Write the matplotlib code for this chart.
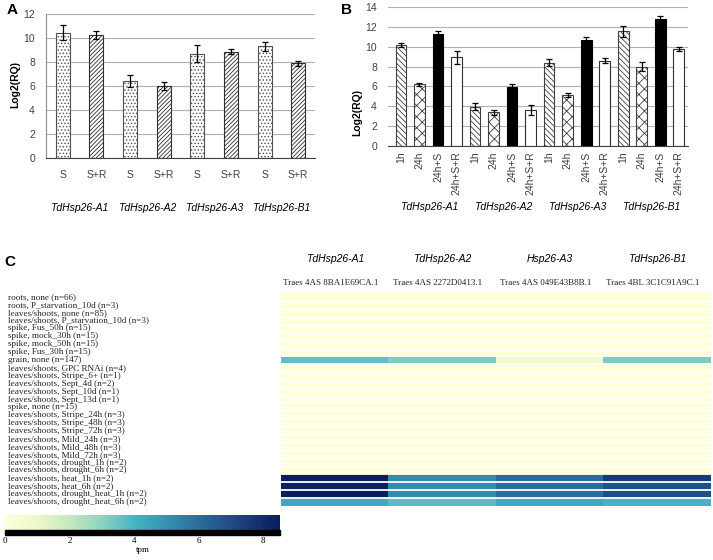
import numpy as np
import matplotlib
matplotlib.use("Agg")
import matplotlib.pyplot as plt
from matplotlib import transforms
from matplotlib.patches import Rectangle
from matplotlib.cm import ScalarMappable
from matplotlib.colors import Normalize, LinearSegmentedColormap

# ---- panel A data ----
a_labels = ["S", "S+R", "S", "S+R", "S", "S+R", "S", "S+R"]
a_values = [10.45, 10.25, 6.45, 6.0, 8.7, 8.85, 9.3, 7.9]
a_errors = [0.6, 0.3, 0.5, 0.3, 0.7, 0.2, 0.4, 0.2]
genes = ["TdHsp26-A1", "TdHsp26-A2", "TdHsp26-A3", "TdHsp26-B1"]

# ---- panel B data ----
b_labels = ["1h", "24h", "24h+S", "24h+S+R"] * 4
b_values = [10.2, 6.2, 11.3, 8.95,
            3.95, 3.4, 5.9, 3.65,
            8.4, 5.1, 10.65, 8.6,
            11.55, 8.0, 12.8, 9.75]
b_errors = [0.2, 0.15, 0.3, 0.65,
            0.35, 0.25, 0.3, 0.5,
            0.35, 0.2, 0.35, 0.25,
            0.55, 0.45, 0.3, 0.2]

# ---- panel C data ----
conditions = [
    "roots, none (n=66)",
    "roots, P_starvation_10d (n=3)",
    "leaves/shoots, none (n=85)",
    "leaves/shoots, P_starvation_10d (n=3)",
    "spike, Fus_50h (n=15)",
    "spike, mock_30h (n=15)",
    "spike, mock_50h (n=15)",
    "spike, Fus_30h (n=15)",
    "grain, none (n=147)",
    "leaves/shoots, GPC RNAi (n=4)",
    "leaves/shoots, Stripe_6+ (n=1)",
    "leaves/shoots, Sept_4d (n=2)",
    "leaves/shoots, Sept_10d (n=1)",
    "leaves/shoots, Sept_13d (n=1)",
    "spike, none (n=15)",
    "leaves/shoots, Stripe_24h (n=3)",
    "leaves/shoots, Stripe_48h (n=3)",
    "leaves/shoots, Stripe_72h (n=3)",
    "leaves/shoots, Mild_24h (n=3)",
    "leaves/shoots, Mild_48h (n=3)",
    "leaves/shoots, Mild_72h (n=3)",
    "leaves/shoots, drought_1h (n=2)",
    "leaves/shoots, drought_6h (n=2)",
    "leaves/shoots, heat_1h (n=2)",
    "leaves/shoots, heat_6h (n=2)",
    "leaves/shoots, drought_heat_1h (n=2)",
    "leaves/shoots, drought_heat_6h (n=2)",
]
c_genes = ["TdHsp26-A1", "TdHsp26-A2", "Hsp26-A3", "TdHsp26-B1"]
transcripts = ["Traes 4AS 8BA1E69CA.1", "Traes 4AS 2272D0413.1",
               "Traes 4AS 049E43B8B.1", "Traes 4BL 3C1C91A9C.1"]
tpm_a1 = [0.05, 0.05, 0.05, 0.05, 0.05, 0.05, 0.05, 0.05, 3.6, 0.05, 0.05, 0.05, 0.05, 0.05,
          0.05, 0.05, 0.05, 0.05, 0.05, 0.05, 0.05, 0.05, 0.05, 8.5, 8.4, 8.5, 4.3]
tpm_a2 = [0.05, 0.05, 0.05, 0.05, 0.05, 0.05, 0.05, 0.05, 3.2, 0.05, 0.05, 0.05, 0.05, 0.05,
          0.05, 0.05, 0.05, 0.05, 0.05, 0.05, 0.05, 0.05, 0.05, 5.2, 5.1, 5.2, 3.7]
tpm_a3 = [0.05, 0.05, 0.05, 0.05, 0.05, 0.05, 0.05, 0.05, 0.8, 0.05, 0.05, 0.05, 0.05, 0.05,
          0.05, 0.05, 0.05, 0.05, 0.05, 0.05, 0.05, 0.05, 0.05, 6.0, 6.0, 6.0, 4.3]
tpm_b1 = [0.05, 0.05, 0.05, 0.05, 0.05, 0.05, 0.05, 0.05, 3.2, 0.05, 0.05, 0.05, 0.05, 0.05,
          0.05, 0.05, 0.05, 0.05, 0.05, 0.05, 0.05, 0.05, 0.05, 7.5, 6.8, 6.9, 4.0]
tpm_max = 8.53

# colour scale as it looks in the figure (muted YlGnBu)
cmap = LinearSegmentedColormap.from_list("tpm", [
    (0.0, '#ffffd9'), (0.12, '#edf8c6'), (0.23, '#c7e9c0'), (0.35, '#8fd3c2'),
    (0.47, '#45b4c4'), (0.59, '#3591b0'), (0.70, '#2b6f9c'), (0.82, '#204c86'),
    (1.0, '#0b1d5b')])

W, H = 713, 560
plt.rcParams['font.family'] = ['Liberation Sans', 'DejaVu Sans']
plt.rcParams['hatch.linewidth'] = 0.6

fig = plt.figure(figsize=(W / 100, H / 100), dpi=100)


def box(x0, y0, x1, y1):
    # pixel box (top-left origin) -> figure fraction
    return [x0 / W, 1 - y1 / H, (x1 - x0) / W, (y1 - y0) / H]


def style_bar_axes(ax, ymax):
    ax.set_ylim(0, ymax)
    ax.set_yticks(np.arange(0, ymax + 1, 2))
    ax.yaxis.grid(True, color='#b0b0b0', lw=0.8)
    ax.set_axisbelow(True)
    for s in ['top', 'right']:
        ax.spines[s].set_visible(False)
    ax.spines['bottom'].set_color('#404040')
    ax.tick_params(axis='y', length=0, pad=8, labelsize=7.5, labelcolor='#404040')
    ax.tick_params(axis='x', length=0, labelsize=7.5, labelcolor='#404040')


# ---- panel A ----
axA = fig.add_axes(box(46, 14, 315, 158))
xa = np.arange(len(a_values))
for i in xa:
    if a_labels[i] == "S":
        hatch, ec = '.....', '#505050'
    else:
        hatch, ec = '////////', '#303030'
    axA.bar(i, a_values[i], width=0.42, facecolor='white', edgecolor=ec,
            hatch=hatch, lw=0.8, zorder=2)
axA.errorbar(xa, a_values, yerr=a_errors, fmt='none', ecolor='black',
             elinewidth=0.9, capsize=2.5, capthick=0.9, zorder=3)
style_bar_axes(axA, 12)
axA.spines['left'].set_color('#909090')
axA.set_xlim(-0.5, 7.5)
axA.set_xticks(xa)
axA.set_xticklabels(a_labels)
axA.tick_params(axis='x', pad=9)
for g, gname in enumerate(genes):
    axA.text(2 * g + 0.5, -0.35, gname, transform=transforms.blended_transform_factory(
        axA.transData, axA.transAxes), ha='center', va='center', fontsize=7.5,
        style='italic')
fig.text(15 / W, 1 - 84 / H, "Log2(RQ)", rotation=90, ha='center', va='center',
         fontsize=7.5, fontweight='bold')
fig.text(12 / W, 1 - 10 / H, "A", fontsize=11, fontweight='bold', ha='center', va='center')

# ---- panel B ----
axB = fig.add_axes(box(388, 7, 688, 146))
xb = np.arange(len(b_values))
b_styles = {
    "1h": dict(facecolor='white', edgecolor='#404040', hatch='\\\\\\\\\\\\'),
    "24h": dict(facecolor='white', edgecolor='#404040', hatch='xxx'),
    "24h+S": dict(facecolor='black', edgecolor='black', hatch=None),
    "24h+S+R": dict(facecolor='white', edgecolor='#303030', hatch=None),
}
for i in xb:
    axB.bar(i, b_values[i], width=0.58, lw=0.8, zorder=2, **b_styles[b_labels[i]])
axB.errorbar(xb, b_values, yerr=b_errors, fmt='none', ecolor='black',
             elinewidth=0.9, capsize=2.5, capthick=0.9, zorder=3)
style_bar_axes(axB, 14)
axB.spines['left'].set_visible(False)
axB.set_xlim(-0.7, 15.5)
axB.set_xticks(xb)
axB.set_xticklabels(b_labels, rotation=90, va='top', ha='center')
axB.tick_params(axis='x', pad=4)
for g, gname in enumerate(genes):
    axB.text(4 * g + 1.5, -0.44, gname, transform=transforms.blended_transform_factory(
        axB.transData, axB.transAxes), ha='center', va='center', fontsize=7.5,
        style='italic')
fig.text(357 / W, 1 - 113 / H, "Log2(RQ)", rotation=90, ha='center', va='center',
         fontsize=7.5, fontweight='bold')
fig.text(347 / W, 1 - 10 / H, "B", fontsize=11, fontweight='bold', ha='center', va='center')

# ---- panel C ----
fig.text(10 / W, 1 - 262 / H, "C", fontsize=11, fontweight='bold', ha='center', va='center')
axC = fig.add_axes(box(281, 293, 711, 506))
mat = np.column_stack([tpm_a1, tpm_a2, tpm_a3, tpm_b1])
axC.imshow(mat, cmap=cmap, vmin=0, vmax=tpm_max, aspect='auto',
           interpolation='nearest')
axC.hlines(np.arange(len(conditions) - 1) + 0.5, -0.5, 3.5, color='white', lw=1.3)
axC.set_xlim(-0.5, 3.5)
axC.set_ylim(len(conditions) - 0.5, -0.5)
axC.axis('off')
serif = ['Liberation Serif', 'DejaVu Serif']
lab_tr = transforms.blended_transform_factory(fig.transFigure, axC.transData)
for r, cond in enumerate(conditions):
    axC.text(8 / W, r, cond, transform=lab_tr, ha='left', va='center',
             fontsize=6.6, family=serif, color='#222222', clip_on=False)
for c in range(4):
    axC.text(c - 0.04, -1.8, transcripts[c], ha='center', va='center',
             fontsize=6.5, family=serif, color='#222222', clip_on=False)
    axC.text(c, -4.8, c_genes[c], ha='center', va='center', fontsize=7.5,
             style='italic', clip_on=False)

# colour bar
cax = fig.add_axes(box(5, 515, 280, 530))
cb = fig.colorbar(ScalarMappable(norm=Normalize(0, tpm_max), cmap=cmap),
                  cax=cax, orientation='horizontal')
cb.outline.set_visible(False)
cb.set_ticks([0, 2, 4, 6, 8])
cax.tick_params(length=0, pad=5, labelsize=6.5)
for t in cax.get_xticklabels():
    t.set_family(serif)
cb.set_label("tpm", family=serif, fontsize=6.5, labelpad=1)
fig.add_artist(Rectangle((5 / W, 1 - 535 / H), 275 / W, 5 / H,
                         transform=fig.transFigure, color='black'))

fig.savefig("out.png", dpi=100)
